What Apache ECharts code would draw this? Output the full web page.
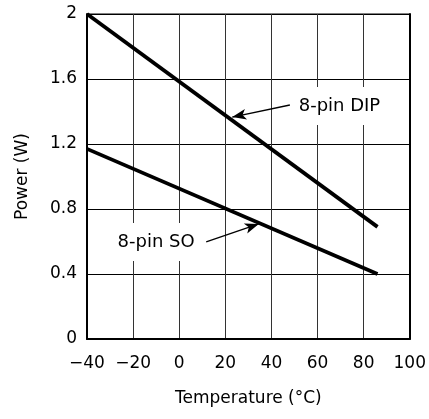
<!DOCTYPE html>
<html>
<head>
<meta charset="utf-8">
<script src="https://cdn.jsdelivr.net/npm/echarts@6/dist/echarts.min.js"></script>
<style>html,body{margin:0;padding:0;background:#fff}#c{width:429px;height:419px}</style>
</head>
<body>
<div id="c"></div>
<script>
const dipTemp = [-40, 86];
const dipPower = [2.0, 0.69];
const soTemp = [-40, 86];
const soPower = [1.17, 0.40];
const xTicks = [-40, -20, 0, 20, 40, 60, 80, 100];
const yTicks = [0, 0.4, 0.8, 1.2, 1.6, 2];
const dipLabel = { text: '8-pin DIP', at: [69.5, 1.434], arrowFrom: [48, 1.44], arrowTo: [23, 1.366] };
const soLabel = { text: '8-pin SO', at: [-10, 0.597], arrowFrom: [11.7, 0.597], arrowTo: [34.5, 0.708] };

const FONT = 'DejaVu Sans';
const chart = echarts.init(document.getElementById('c'), null, { renderer: 'canvas' });

function pairs(xs, ys) { return xs.map((x, i) => [x, ys[i]]); }
function fmtX(v) { return v < 0 ? '\u2212' + Math.abs(v) : String(v); }
function fmtY(v) { return v === 0 ? '0' : (v === 2 ? '2' : v.toFixed(1)); }

function annotation(lbl) {
  return {
    markPoint: {
      silent: true,
      symbol: 'rect', symbolSize: 0,
      label: {
        show: true, position: 'inside', formatter: lbl.text,
        color: '#000', fontFamily: FONT, fontSize: 18,
        backgroundColor: '#fff', padding: [10, 8]
      },
      data: [{ coord: lbl.at }]
    },
    markLine: {
      silent: true,
      symbol: ['none', 'arrow'], symbolSize: [8, 14],
      lineStyle: { color: '#000', width: 1.3, type: 'solid' },
      label: { show: false },
      data: [[{ coord: lbl.arrowFrom }, { coord: lbl.arrowTo }]]
    }
  };
}

chart.setOption({
  animation: false,
  backgroundColor: '#fff',
  grid: { left: 87, right: 17, top: 14, bottom: 80, show: true, borderColor: '#000', borderWidth: 1 },
  xAxis: {
    type: 'value', min: -40, max: 100, interval: 20,
    name: 'Temperature (\u00B0C)', nameLocation: 'middle', nameGap: 51,
    nameTextStyle: { color: '#000', fontFamily: FONT, fontSize: 17 },
    axisLine: { show: true, onZero: false, lineStyle: { color: '#000', width: 2 } },
    axisTick: { show: false },
    axisLabel: { color: '#000', fontFamily: FONT, fontSize: 17, margin: 16, formatter: fmtX },
    splitLine: { show: true, lineStyle: { color: '#333', width: 1 } }
  },
  yAxis: [{
    type: 'value', min: 0, max: 2, interval: 0.4,
    name: 'Power (W)', nameLocation: 'middle', nameGap: 56,
    nameTextStyle: { color: '#000', fontFamily: FONT, fontSize: 17 },
    axisLine: { show: true, onZero: false, lineStyle: { color: '#000', width: 2 } },
    axisTick: { show: false },
    axisLabel: { color: '#000', fontFamily: FONT, fontSize: 17, margin: 10, formatter: fmtY },
    splitLine: { show: true, lineStyle: { color: '#000', width: 1 } }
  }, {
    type: 'value', min: 0, max: 2, interval: 0.4, position: 'right',
    axisLine: { show: true, onZero: false, lineStyle: { color: '#000', width: 2 } },
    axisTick: { show: false }, axisLabel: { show: false }, splitLine: { show: false }
  }],
  series: [
    Object.assign({
      type: 'line', name: '8-pin DIP', data: pairs(dipTemp, dipPower),
      symbol: 'none', lineStyle: { color: '#000', width: 3.8 }, z: 3
    }, annotation(dipLabel)),
    Object.assign({
      type: 'line', name: '8-pin SO', data: pairs(soTemp, soPower),
      symbol: 'none', lineStyle: { color: '#000', width: 3.8 }, z: 3
    }, annotation(soLabel))
  ]
});
</script>
</body>
</html>
